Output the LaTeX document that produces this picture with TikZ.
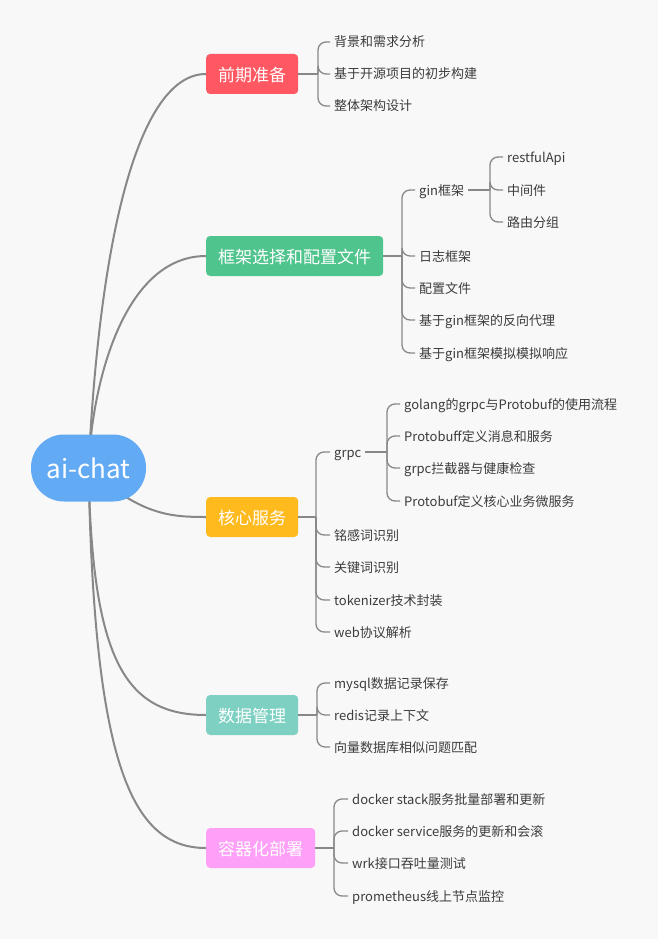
\documentclass[tikz,border=0pt]{standalone}
\usepackage{fontspec}
\setmainfont{Noto Sans CJK SC}
\usetikzlibrary{backgrounds}
\definecolor{bgcol}{HTML}{F8F8F8}
\definecolor{rootblue}{HTML}{63AAF5}
\definecolor{topicred}{HTML}{FF5862}
\definecolor{topicgreen}{HTML}{50C48D}
\definecolor{topicyellow}{HTML}{FFBA1E}
\definecolor{topicteal}{HTML}{7ED0C3}
\definecolor{topicpink}{HTML}{FFA0F8}
\definecolor{linegray}{HTML}{888888}
\definecolor{leafgray}{HTML}{3C3C3C}

\begin{document}
\begin{tikzpicture}[x=1pt,y=-1pt]
\tikzstyle{root}=[rectangle,rounded corners=33pt,fill=rootblue,text=white,minimum width=115pt,minimum height=67pt,font=\fontsize{26}{30}\selectfont]
\tikzstyle{topic}=[rectangle,rounded corners=4pt,text=white,minimum height=40pt,inner xsep=12pt,anchor=west,text height=15pt,text depth=0pt,font=\fontsize{17}{20}\selectfont]
\tikzstyle{leaf}=[anchor=west,inner xsep=4pt,text height=12pt,text depth=2pt,text=leafgray,font=\fontsize{13}{15}\selectfont]
\tikzstyle{trunk}=[draw=linegray,line width=2pt]
\tikzstyle{twig}=[draw=linegray,line width=1.3pt,rounded corners=8pt]
\useasboundingbox (0,0) rectangle (658,939);

% root and main topics
\node[root] (ai) at (88.5,468) {ai-chat};
\node[topic,fill=topicred] (pre) at (206,74) {前期准备};
\node[topic,fill=topicgreen] (frame) at (206,256) {框架选择和配置文件};
\node[topic,fill=topicyellow] (core) at (206,517) {核心服务};
\node[topic,fill=topicteal] (data) at (206,715) {数据管理};
\node[topic,fill=topicpink] (deploy) at (206,848) {容器化部署};

% 前期准备
\node[leaf] (pre1) at (330,42) {背景和需求分析};
\node[leaf] (pre2) at (330,74) {基于开源项目的初步构建};
\node[leaf] (pre3) at (330,106) {整体架构设计};
\coordinate (jpre) at (318,74);
\draw[twig] (pre.east) -- (jpre);
\foreach \c in {pre1,pre2,pre3} \draw[twig] (jpre) |- (\c.west);

% 框架选择和配置文件
\node[leaf] (gin) at (415,190) {gin框架};
\node[leaf] (frame2) at (415,256) {日志框架};
\node[leaf] (frame3) at (415,288) {配置文件};
\node[leaf] (frame4) at (415,320) {基于gin框架的反向代理};
\node[leaf] (frame5) at (415,353) {基于gin框架模拟模拟响应};
\coordinate (jframe) at (402,256);
\draw[twig] (frame.east) -- (jframe);
\foreach \c in {gin,frame2,frame3,frame4,frame5} \draw[twig] (jframe) |- (\c.west);

\node[leaf] (gin1) at (503,157) {restfulApi};
\node[leaf] (gin2) at (503,190) {中间件};
\node[leaf] (gin3) at (503,222) {路由分组};
\coordinate (jgin) at (490,190);
\draw[twig] (gin.east) -- (jgin);
\foreach \c in {gin1,gin2,gin3} \draw[twig] (jgin) |- (\c.west);

% 核心服务
\node[leaf] (grpc) at (330,452) {grpc};
\node[leaf] (core2) at (330,535) {铭感词识别};
\node[leaf] (core3) at (330,567) {关键词识别};
\node[leaf] (core4) at (330,600) {tokenizer技术封装};
\node[leaf] (core5) at (330,632) {web协议解析};
\coordinate (jcore) at (316,517);
\draw[twig] (core.east) -- (jcore);
\foreach \c in {grpc,core2,core3,core4,core5} \draw[twig] (jcore) |- (\c.west);

\node[leaf] (grpc1) at (400,404) {golang的grpc与Protobuf的使用流程};
\node[leaf] (grpc2) at (400,436) {Protobuff定义消息和服务};
\node[leaf] (grpc3) at (400,468) {grpc拦截器与健康检查};
\node[leaf] (grpc4) at (400,501) {Protobuf定义核心业务微服务};
\coordinate (jgrpc) at (387,452);
\draw[twig] (grpc.east) -- (jgrpc);
\foreach \c in {grpc1,grpc2,grpc3,grpc4} \draw[twig] (jgrpc) |- (\c.west);

% 数据管理
\node[leaf] (data1) at (330,683) {mysql数据记录保存};
\node[leaf] (data2) at (330,715) {redis记录上下文};
\node[leaf] (data3) at (330,747) {向量数据库相似问题匹配};
\coordinate (jdata) at (317,715);
\draw[twig] (data.east) -- (jdata);
\foreach \c in {data1,data2,data3} \draw[twig] (jdata) |- (\c.west);

% 容器化部署
\node[leaf] (dep1) at (348,799) {docker stack服务批量部署和更新};
\node[leaf] (dep2) at (348,831) {docker service服务的更新和会滚};
\node[leaf] (dep3) at (348,863) {wrk接口吞吐量测试};
\node[leaf] (dep4) at (348,896) {prometheus线上节点监控};
\coordinate (jdep) at (334,848);
\draw[twig] (deploy.east) -- (jdep);
\foreach \c in {dep1,dep2,dep3,dep4} \draw[twig] (jdep) |- (\c.west);

\begin{scope}[on background layer]
\fill[bgcol] (0,0) rectangle (658,939);
\draw[trunk] (ai.center) .. controls (100,230) and (140,74) .. (pre.west);
\draw[trunk] (ai.center) .. controls (92,380) and (125,256) .. (frame.west);
\draw[trunk] (ai.center) .. controls (140,515) and (170,517) .. (core.west);
\draw[trunk] (ai.center) .. controls (92,660) and (125,715) .. (data.west);
\draw[trunk] (ai.center) .. controls (94,760) and (130,848) .. (deploy.west);
\end{scope}
\end{tikzpicture}
\end{document}
